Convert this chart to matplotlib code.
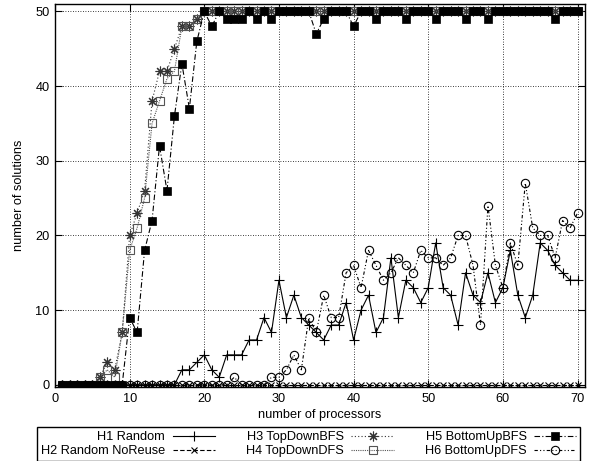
import matplotlib
matplotlib.use("Agg")
import matplotlib.pyplot as plt
import numpy as np

processors = list(range(1, 71))

h1_random = [0]*16 + [2, 2, 3, 4, 2, 1, 4, 4, 4, 6, 6, 9, 7, 14, 9, 12, 9, 8, 7, 6,
                      8, 8, 11, 6, 10, 12, 7, 9, 17, 9, 14, 13, 11, 13, 19, 13, 12, 8, 15, 12,
                      11, 15, 11, 13, 18, 12, 9, 12, 19, 18, 16, 15, 14, 14]
h2_random_noreuse = [0]*70
h3_topdown_bfs = [0]*5 + [1, 3, 2, 7, 20, 23, 26, 38, 42, 42, 45, 48, 48, 49] + [50]*51
h4_topdown_dfs = [0]*5 + [1, 2, 1, 7, 18, 21, 25, 35, 38, 41, 42, 48, 48, 49] + [50]*51
h5_bottomup_bfs = [0]*9 + [9, 7, 18, 22, 32, 26, 36, 43, 37, 46,
                           50, 48, 50, 49, 49, 49, 50, 49, 50, 49,
                           50, 50, 50, 50, 50, 47, 49, 50, 50, 50,
                           48, 50, 50, 49, 50, 50, 50, 49, 50, 50,
                           50, 49, 50, 50, 50, 49, 50, 50, 49, 50,
                           50, 50, 50, 50, 50, 50, 50, 49, 50, 50, 50]
h6_bottomup_dfs = [0]*23 + [1, 0, 0, 0, 0, 1, 1, 2, 4, 2, 9, 7, 12, 9, 9, 15, 16, 13, 18,
                            16, 14, 15, 17, 16, 15, 18, 17, 17, 16, 17, 20, 20, 16, 8, 24,
                            16, 13, 19, 16, 27, 21, 20, 20, 17, 22, 21, 23]

labels = ["H1 Random", "H2 Random NoReuse", "H3 TopDownBFS",
          "H4 TopDownDFS", "H5 BottomUpBFS", "H6 BottomUpDFS"]

plt.rcParams['font.family'] = ['Liberation Sans', 'DejaVu Sans']
plt.rcParams['font.size'] = 9.2

fig = plt.figure(figsize=(6.03, 4.61), dpi=100)
ax = fig.add_axes([55/603, 1-387/461, (585-55)/603, (387-4)/461])

lw = 0.8
ax.plot(processors, h1_random, color='black', lw=lw, linestyle='-', marker='+',
        ms=7, mew=0.8, label=labels[0])
ax.plot(processors, h2_random_noreuse, color='black', lw=lw, linestyle=(0, (4, 2)),
        marker='x', ms=5, mew=0.8, label=labels[1])
ax.plot(processors, h3_topdown_bfs, color='#333333', lw=lw, linestyle=(0, (1, 2)),
        marker=(8, 2, 0), ms=7, mew=0.8, label=labels[2])
ax.plot(processors, h4_topdown_dfs, color='#555555', lw=lw, linestyle=(0, (1, 1)),
        marker='s', ms=6, mew=0.8, mfc='none', label=labels[3])
ax.plot(processors, h5_bottomup_bfs, color='black', lw=lw, linestyle=(0, (5, 2, 1, 2)),
        marker='s', ms=5.8, mew=0.5, label=labels[4])
ax.plot(processors, h6_bottomup_dfs, color='black', lw=lw, linestyle=(0, (3, 2, 1, 2, 1, 2)),
        marker='o', ms=6, mew=0.8, mfc='none', label=labels[5])

ax.set_xlim(0, 71)
ax.set_ylim(-0.3, 51)
ax.set_xticks(range(0, 71, 10))
ax.set_yticks(range(0, 51, 10))
ax.grid(True, color='black', linestyle=(0, (1, 2)), linewidth=0.6)
ax.tick_params(direction='in', top=True, right=True, length=5, width=0.8, pad=4)
for s in ax.spines.values():
    s.set_linewidth(1.0)

ax.set_xlabel("number of processors", labelpad=3)
ax.set_ylabel("number of solutions", labelpad=7)

leg = fig.legend(loc='lower center', bbox_to_anchor=(308.5/603, 0.0), ncol=3,
                 markerfirst=False, fancybox=False, edgecolor='black', framealpha=1,
                 handlelength=3.3, handletextpad=0.6, columnspacing=2.45,
                 labelspacing=0.15, borderpad=0.3, borderaxespad=0)
leg.get_frame().set_linewidth(1.0)

fig.savefig("out.png", dpi=100)
